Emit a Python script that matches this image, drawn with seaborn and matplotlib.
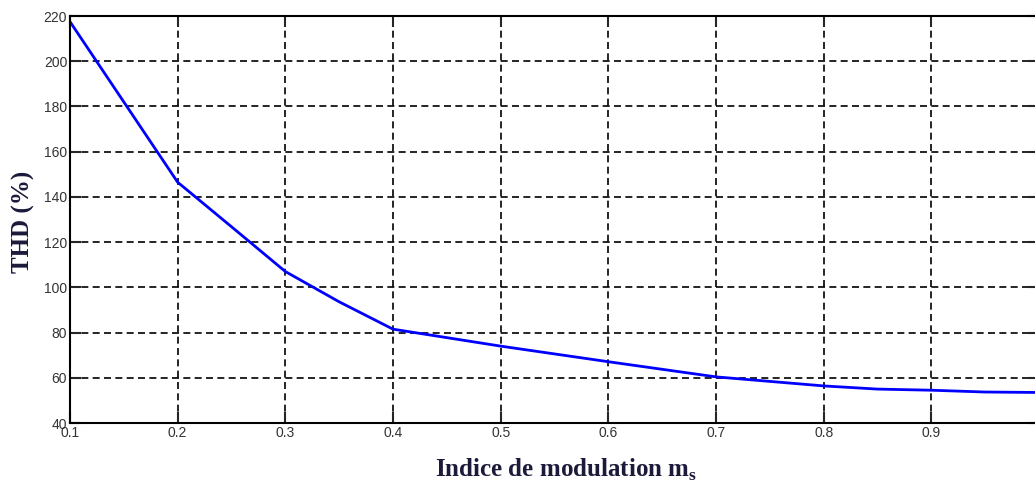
import matplotlib
matplotlib.use("Agg")
import matplotlib.pyplot as plt
import seaborn as sns
import pandas as pd

# Data
mod_index = [0.1, 0.2, 0.25, 0.3, 0.35, 0.4, 0.5, 0.6, 0.7, 0.8, 0.85, 0.9, 0.95, 1.0]
thd_pct = [217.5, 146.5, 126.8, 107.0, 93.6, 81.5, 74.0, 67.1, 60.4, 56.4, 55.0, 54.5, 53.7, 53.5]
x_ticks = [0.1, 0.2, 0.3, 0.4, 0.5, 0.6, 0.7, 0.8, 0.9, 1.0]
x_tick_labels = ["0.1", "0.2", "0.3", "0.4", "0.5", "0.6", "0.7", "0.8", "0.9", "1"]
y_ticks = [40, 60, 80, 100, 120, 140, 160, 180, 200, 220]

sns.set_style("white")
plt.rcParams["font.family"] = ["Liberation Sans", "DejaVu Sans"]

df = pd.DataFrame({"m": mod_index, "thd": thd_pct})

fig = plt.figure(figsize=(10.35, 4.82), dpi=100)
ax = fig.add_axes([0.0676, 0.1224, 0.9363, 0.8444])

sns.lineplot(data=df, x="m", y="thd", ax=ax, color="#0000ff", linewidth=2.0)

ax.set_xlim(0.1, 1.0)
ax.set_ylim(40, 220)
ax.set_xticks(x_ticks)
ax.set_xticklabels(x_tick_labels)
ax.set_yticks(y_ticks)

ax.grid(True, color="black", linestyle=(0, (4.2, 2.6)), linewidth=1.2)
ax.set_axisbelow(True)

for s in ax.spines.values():
    s.set_visible(True)
    s.set_color("black")
    s.set_linewidth(1.5)

ax.tick_params(axis="both", which="major", direction="in", length=8, width=1.5,
               top=True, right=True, labelsize=10, labelcolor="#333333", pad=2,
               bottom=True, left=True)

label_color = "#1c1a3a"
ax.set_xlabel(r"Indice de modulation m$_{\mathregular{s}}$", fontsize=18,
              fontweight="bold", family="Liberation Serif", color=label_color)
ax.set_ylabel("THD (%)", fontsize=18, fontweight="bold",
              family="Liberation Serif", color=label_color)
ax.xaxis.set_label_coords(0.512, -0.082)
ax.yaxis.set_label_coords(-0.036, 0.494)

fig.savefig("out.png", dpi=100)
